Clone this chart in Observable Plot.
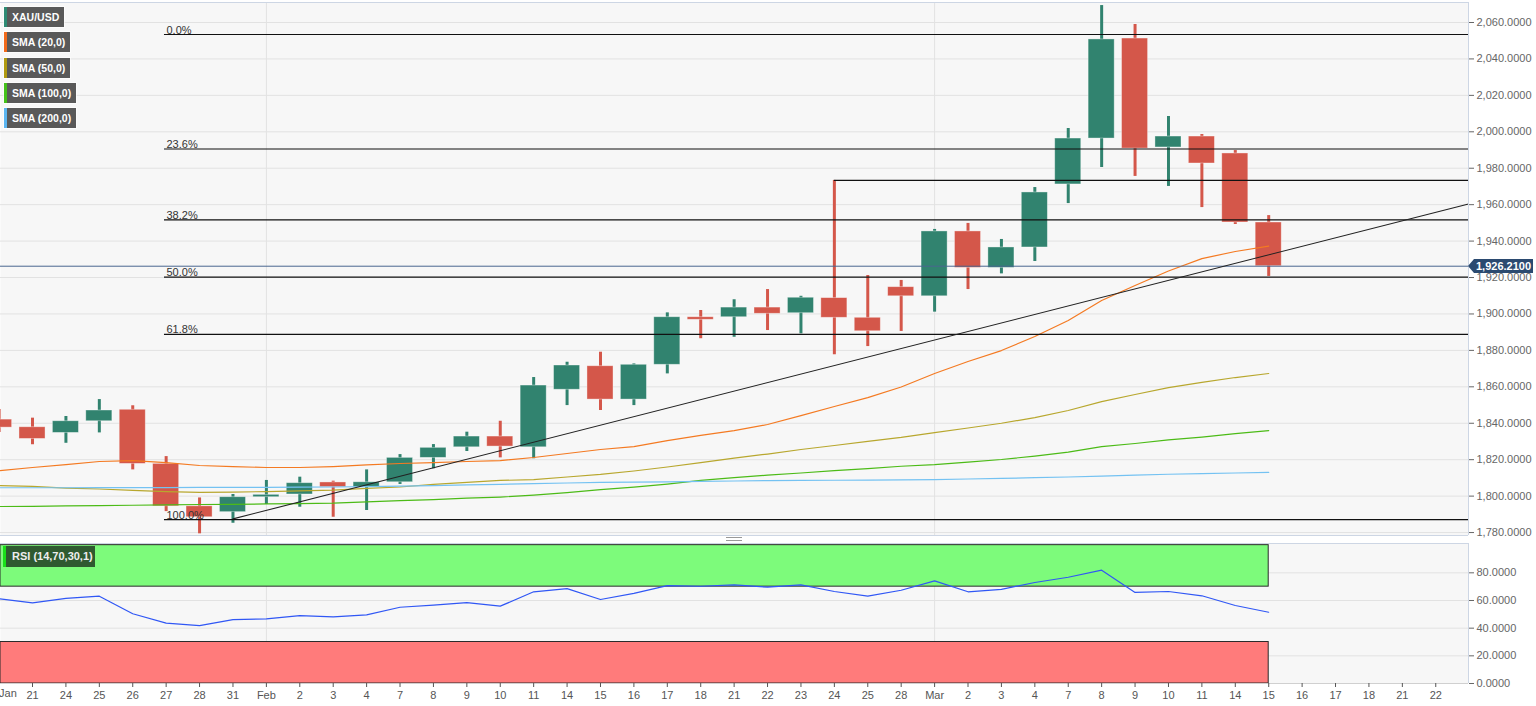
<!DOCTYPE html>
<html><head><meta charset="utf-8">
<script src="https://cdn.jsdelivr.net/npm/d3@7"></script>
<script src="https://cdn.jsdelivr.net/npm/@observablehq/plot@0.6"></script>
<style>
html,body{margin:0;padding:0;background:#fff;overflow:hidden;font-family:"Liberation Sans",Arial,sans-serif;}
#wrap{position:relative;width:1536px;height:706px;overflow:hidden;}
#main{position:absolute;left:0;top:0;}
#rsi{position:absolute;left:0;top:538px;}
.leg{position:absolute;left:4px;height:20px;line-height:20px;background:#595959;color:#fff;font-weight:bold;font-size:10.5px;padding-left:5px;border-left:3px solid;box-sizing:border-box;box-shadow:0 0 0 1px rgba(255,255,255,0.6);white-space:nowrap;}
#rsiLab{position:absolute;left:3px;top:546px;width:92px;height:21px;line-height:21px;background:#2f5a30;color:#eee;font-weight:bold;font-size:11px;padding-left:6px;border-left:3px solid #19e019;box-sizing:border-box;white-space:nowrap;}
#priceLab{position:absolute;left:1474px;width:59px;height:14px;line-height:14px;background:#2b4a70;color:#fff;font-weight:bold;font-size:11px;text-align:center;}
#priceArrow{position:absolute;left:1468px;width:0;height:0;border-top:7px solid transparent;border-bottom:7px solid transparent;border-right:6px solid #2b4a70;}
#handle{position:absolute;left:726px;top:537px;width:16px;height:2px;border-top:1px solid #999;border-bottom:1px solid #999;}
</style></head>
<body><div id="wrap"><div id="main"></div><div id="rsi"></div></div>
<script>
// ---- data ----
const dateLabels = ["Jan","21","24","25","26","27","28","31","Feb","2","3","4","7","8","9","10","11","14","15","16","17","18","21","22","23","24","25","28","Mar","2","3","4","7","8","9","10","11","14","15","16","17","18","21","22"];
const open  = [1842.0,1837.8,1834.7,1841.1,1847.4,1817.7,1794.4,1791.2,1799.4,1800.9,1807.5,1804.9,1807.6,1821.0,1826.8,1832.7,1826.8,1858.4,1871.3,1853.0,1872.1,1898.2,1898.2,1903.5,1900.4,1908.7,1897.9,1914.7,1909.7,1945.3,1925.3,1936.5,1971.1,1996.3,2051.2,1991.4,1997.4,1988.1,1950.2];
const high  = [1847.5,1842.8,1843.7,1853.0,1849.6,1821.7,1799.0,1800.9,1808.6,1810.4,1808.2,1814.4,1822.8,1828.3,1835.1,1841.1,1865.1,1873.5,1879.0,1872.6,1900.6,1901.9,1907.8,1913.4,1909.7,1973.3,1921.1,1918.4,1946.4,1949.7,1940.9,1969.4,2001.8,2069.3,2058.9,2008.4,1998.5,1989.7,1954.0];
const low   = [1834.9,1828.2,1829.0,1834.7,1814.4,1791.5,1779.3,1785.1,1795.4,1793.9,1788.4,1792.1,1806.4,1815.0,1824.5,1821.0,1820.5,1849.7,1847.0,1849.7,1867.1,1886.4,1887.2,1890.9,1889.1,1877.6,1882.1,1890.4,1901.0,1913.4,1922.0,1928.8,1960.6,1980.4,1975.5,1970.0,1958.4,1949.1,1920.6];
const close = [1837.6,1831.4,1841.1,1847.0,1817.7,1794.4,1788.4,1799.4,1800.7,1807.1,1804.9,1807.6,1821.0,1826.5,1832.7,1827.2,1860.7,1871.7,1853.0,1872.1,1898.2,1896.8,1903.5,1900.1,1908.9,1897.9,1890.5,1909.7,1945.3,1925.3,1936.5,1966.7,1996.3,2050.7,1990.8,1997.4,1982.6,1950.2,1926.21];
const sma20  = [1814.0,1815.7,1817.3,1819.0,1819.5,1818.4,1816.8,1816.2,1815.7,1815.7,1816.2,1817.1,1817.9,1818.4,1819.0,1819.5,1821.2,1823.4,1825.6,1827.2,1830.5,1833.3,1836.0,1839.3,1844.2,1849.2,1854.1,1859.9,1867.3,1873.9,1879.9,1887.6,1896.4,1907.4,1915.6,1923.6,1930.4,1934.3,1937.2];
const sma50  = [1805.8,1805.3,1804.4,1803.9,1803.2,1802.5,1802.0,1802.2,1802.5,1802.9,1803.3,1804.2,1805.0,1806.4,1807.5,1808.6,1809.1,1810.5,1811.9,1813.8,1816.0,1818.4,1820.9,1823.1,1825.6,1827.8,1830.0,1832.2,1834.9,1837.4,1840.0,1843.1,1847.0,1851.9,1855.8,1859.6,1862.4,1865.1,1867.3];
const sma100 = [1794.3,1794.4,1794.6,1794.8,1795.0,1795.2,1795.4,1795.5,1795.7,1795.9,1796.1,1796.8,1797.5,1798.1,1798.9,1799.5,1800.5,1801.9,1803.6,1804.9,1806.6,1808.6,1810.2,1811.5,1812.7,1814.0,1815.1,1816.4,1817.3,1818.7,1820.1,1822.0,1824.2,1827.2,1828.9,1830.9,1832.4,1834.3,1836.0];
const sma200 = [1804.6,1804.6,1804.6,1804.7,1804.7,1804.7,1804.8,1804.8,1804.8,1804.9,1805.0,1805.2,1805.5,1805.8,1806.2,1806.5,1806.9,1807.2,1807.5,1807.7,1807.8,1808.1,1808.3,1808.5,1808.6,1808.7,1808.8,1808.9,1809.1,1809.4,1809.7,1810.1,1810.5,1811.0,1811.5,1812.0,1812.4,1812.7,1813.0];
const rsiValues = [61.2,58.3,61.6,63.1,50.4,43.6,41.9,46.2,46.7,49.1,48.2,49.6,55.1,56.6,58.5,55.9,66.3,68.6,60.7,65.2,70.8,70.3,71.3,69.6,71.3,66.5,63.1,67.4,74.2,66.3,68.1,73.0,76.8,81.9,65.8,66.5,63.4,56.4,51.5];
const priceTicks = [1780,1800,1820,1840,1860,1880,1900,1920,1940,1960,1980,2000,2020,2040,2060];
const rsiTicks = [0,20,40,60,80];
const fibLevels = [0, 23.6, 38.2, 50, 61.8, 100];
const fibLabels = ["0.0%","23.6%","38.2%","50.0%","61.8%","100.0%"];
const fibHigh = 2053.4, fibLow = 1787.1, fibStartIndex = 4.95;
const resistanceLevels = [{from: 25, p: 1973.3}];
const trendPoints = [{i: 7, p: 1787.5}, {i: 43.98, p: 1960.4}];
const lastPrice = 1926.21;
const monthStarts = [8, 28];
const rsiBands = [{lo: 70, hi: 100, fill: "#7dfb7b"}, {lo: 0, hi: 30, fill: "#ff7b7b"}];
const legendItems = [
  {label: "XAU/USD", color: "#2e8b74", width: 60},
  {label: "SMA (20,0)", color: "#f26a1b", width: 66},
  {label: "SMA (50,0)", color: "#b09a10", width: 66},
  {label: "SMA (100,0)", color: "#45c21a", width: 72},
  {label: "SMA (200,0)", color: "#5bb5f0", width: 72}
];

// ---- derived tables ----
const xDomain = [0.042, 43.98];
const up = "#31836f", down = "#d4574a";
const candles = open.map((o, i) => ({i, o, h: high[i], l: low[i], c: close[i], col: close[i] >= o ? up : down}));
const fib = fibLevels.map((f, k) => ({p: fibHigh - (fibHigh - fibLow) * f / 100, label: fibLabels[k]}));
const smaSeries = [
  {vals: sma20, color: "#f47a22"},
  {vals: sma50, color: "#b8a72e"},
  {vals: sma100, color: "#4cbb17"},
  {vals: sma200, color: "#74c2f2"}
];
const fmt = d3.format(",.4f");
const font = '"Liberation Sans", Arial, sans-serif';
const borderCol = "#cdd6e4";

const mainChart = Plot.plot({
  width: 1536, height: 538,
  marginLeft: 0, marginRight: 68, marginTop: 2, marginBottom: 3,
  style: {fontFamily: font, fontSize: "11px", background: "transparent", overflow: "visible"},
  x: {domain: xDomain, axis: null},
  y: {domain: [1778.38, 2070.98]},
  color: {type: "identity"},
  marks: [
    Plot.frame({fill: "#f7f7f7", stroke: null}),
    Plot.ruleY(priceTicks, {stroke: "#e2e2e2"}),
    Plot.ruleX(monthStarts, {stroke: "#e2e2e2"}),
    Plot.ruleX(candles, {x: "i", y1: "l", y2: "h", stroke: "col", strokeWidth: 3}),
    Plot.rect(candles, {x1: d => d.i - 0.39, x2: d => d.i + 0.39, y1: "o", y2: "c", fill: "col", stroke: "#ffffff", strokeOpacity: 0.45, strokeWidth: 0.8}),
    ...smaSeries.map(s => Plot.line(s.vals, {x: (d, i) => i, y: d => d, stroke: s.color, strokeWidth: 1.2})),
    Plot.ruleY([lastPrice], {stroke: "#4a6690", strokeWidth: 1}),
    Plot.ruleY(fib, {y: "p", x1: () => fibStartIndex, x2: () => xDomain[1], stroke: "#111", strokeWidth: 1.2}),
    Plot.ruleY(resistanceLevels, {y: "p", x1: "from", x2: () => xDomain[1], stroke: "#111", strokeWidth: 1.2}),
    Plot.text(fib, {x: () => fibStartIndex, y: "p", text: "label", textAnchor: "start", lineAnchor: "bottom", dx: 2, dy: -1, fill: "#333", fontSize: 11}),
    Plot.line(trendPoints, {x: "i", y: "p", stroke: "#222", strokeWidth: 1.1}),
    Plot.ruleY([1778.38, 2070.98], {stroke: borderCol}),
    Plot.ruleX([xDomain[1]], {stroke: borderCol}),
    Plot.axisY(priceTicks, {anchor: "right", tickFormat: fmt, tickSize: 5, tickPadding: 3, color: "#666", fontSize: 11})
  ]
});
document.getElementById("main").appendChild(mainChart);

const lastIdx = rsiValues.length - 1;
const rsiChart = Plot.plot({
  width: 1536, height: 168,
  marginLeft: 0, marginRight: 68, marginTop: 5, marginBottom: 23,
  style: {fontFamily: font, fontSize: "11px", background: "transparent", overflow: "visible"},
  x: {domain: xDomain},
  y: {domain: [0, 101.2]},
  color: {type: "identity"},
  marks: [
    Plot.frame({fill: "#f7f7f7", stroke: null}),
    Plot.ruleY(rsiTicks, {stroke: "#e2e2e2"}),
    Plot.ruleX(monthStarts, {stroke: "#e2e2e2"}),
    Plot.rect(rsiBands, {x1: () => xDomain[0], x2: () => lastIdx, y1: "lo", y2: "hi", fill: "fill", stroke: "#2b2b2b", strokeWidth: 1}),
    Plot.line(rsiValues, {x: (d, i) => i, y: d => d, stroke: "#3057f5", strokeWidth: 1.2}),
    Plot.ruleY([101.2], {stroke: borderCol}),
    Plot.ruleX([xDomain[1]], {stroke: borderCol}),
    Plot.ruleY([0], {stroke: "#d0d0d0"}),
    Plot.axisY(rsiTicks, {anchor: "right", tickFormat: fmt, tickSize: 5, tickPadding: 3, color: "#666", fontSize: 11}),
    Plot.axisX(d3.range(1, dateLabels.length), {tickFormat: i => dateLabels[i], tickSize: 4, tickPadding: 4, color: "#555", fontSize: 11}),
    Plot.text([0], {x: d => d, frameAnchor: "bottom", text: d => dateLabels[d], textAnchor: "start", dy: 13, fill: "#555", fontSize: 11})
  ]
});
document.getElementById("rsi").appendChild(rsiChart);

// ---- overlays ----
const wrap = document.getElementById("wrap");
legendItems.forEach((it, k) => {
  const d = document.createElement("div");
  d.className = "leg";
  d.style.top = (7 + k * 25.3) + "px";
  d.style.width = it.width + "px";
  d.style.borderLeftColor = it.color;
  d.textContent = it.label;
  wrap.appendChild(d);
});
const rl = document.createElement("div");
rl.id = "rsiLab"; rl.textContent = "RSI (14,70,30,1)";
wrap.appendChild(rl);
const yPx = mainChart.scale("y").apply(lastPrice);
const pl = document.createElement("div");
pl.id = "priceLab"; pl.style.top = (yPx - 7) + "px"; pl.textContent = fmt(lastPrice);
wrap.appendChild(pl);
const pa = document.createElement("div");
pa.id = "priceArrow"; pa.style.top = (yPx - 7) + "px";
wrap.appendChild(pa);
const hd = document.createElement("div");
hd.id = "handle";
wrap.appendChild(hd);
</script>
</body></html>
